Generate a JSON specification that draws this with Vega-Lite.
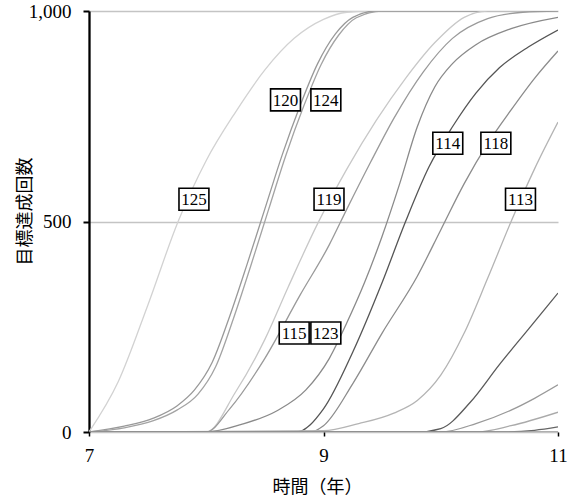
{
  "$schema": "https://vega.github.io/schema/vega-lite/v6.json",
  "width": 469,
  "height": 421,
  "autosize": {"type": "none"},
  "padding": {"left": 89, "top": 11, "right": 15, "bottom": 67},
  "background": "white",
  "config": {
    "view": {"stroke": null},
    "axis": {
      "labelFont": "Times New Roman", "labelFontSize": 19, "labelColor": "black",
      "titleFont": "Noto Sans CJK JP", "titleFontSize": 18, "titleFontWeight": "normal", "titleColor": "black",
      "tickColor": "black"
    },
    "axisX": {"domain": false, "grid": false, "tickSize": 4, "tickWidth": 1.5, "labelPadding": 10, "labelFlush": false,
      "titleX": 228, "titleY": 46, "titleBaseline": "top"},
    "axisY": {"domainColor": "black", "domainWidth": 2.3, "tickSize": 6, "tickWidth": 2,
      "grid": true, "gridColor": "#c4c4c4", "gridWidth": 1.5, "labelPadding": 12,
      "titleX": -64, "titleY": 200, "titleBaseline": "middle", "titleAngle": -90}
  },
  "datasets": {
    "curves": [
      {"s":"125","t":7,"v":0},{"s":"125","t":7.25,"v":120},{"s":"125","t":7.5,"v":300},{"s":"125","t":7.76,"v":500},{"s":"125","t":8.0,"v":645},{"s":"125","t":8.25,"v":760},{"s":"125","t":8.5,"v":860},{"s":"125","t":8.75,"v":935},{"s":"125","t":9.0,"v":980},{"s":"125","t":9.2,"v":997},{"s":"125","t":9.4,"v":1000},{"s":"125","t":11,"v":1000},
      {"s":"120","t":7,"v":0},{"s":"120","t":7.3,"v":14},{"s":"120","t":7.55,"v":33},{"s":"120","t":7.75,"v":62},{"s":"120","t":7.9,"v":100},{"s":"120","t":8.05,"v":165},{"s":"120","t":8.2,"v":275},{"s":"120","t":8.35,"v":400},{"s":"120","t":8.5,"v":530},{"s":"120","t":8.65,"v":660},{"s":"120","t":8.8,"v":775},{"s":"120","t":8.95,"v":875},{"s":"120","t":9.1,"v":945},{"s":"120","t":9.25,"v":985},{"s":"120","t":9.45,"v":1000},{"s":"120","t":11,"v":1000},
      {"s":"124","t":7,"v":0},{"s":"124","t":7.3,"v":10},{"s":"124","t":7.55,"v":27},{"s":"124","t":7.75,"v":52},{"s":"124","t":7.93,"v":90},{"s":"124","t":8.08,"v":155},{"s":"124","t":8.23,"v":268},{"s":"124","t":8.38,"v":395},{"s":"124","t":8.53,"v":527},{"s":"124","t":8.68,"v":658},{"s":"124","t":8.83,"v":773},{"s":"124","t":8.98,"v":873},{"s":"124","t":9.13,"v":943},{"s":"124","t":9.28,"v":984},{"s":"124","t":9.5,"v":1000},{"s":"124","t":11,"v":1000},
      {"s":"119","t":7,"v":0},{"s":"119","t":8.0,"v":0},{"s":"119","t":8.25,"v":95},{"s":"119","t":8.5,"v":220},{"s":"119","t":8.7,"v":345},{"s":"119","t":8.95,"v":495},{"s":"119","t":9.2,"v":625},{"s":"119","t":9.45,"v":740},{"s":"119","t":9.7,"v":840},{"s":"119","t":9.95,"v":925},{"s":"119","t":10.2,"v":985},{"s":"119","t":10.4,"v":1000},{"s":"119","t":11,"v":1000},
      {"s":"115","t":7,"v":0},{"s":"115","t":8.0,"v":0},{"s":"115","t":8.2,"v":55},{"s":"115","t":8.5,"v":175},{"s":"115","t":8.8,"v":325},{"s":"115","t":9.05,"v":445},{"s":"115","t":9.2,"v":530},{"s":"115","t":9.4,"v":640},{"s":"115","t":9.6,"v":745},{"s":"115","t":9.85,"v":855},{"s":"115","t":10.1,"v":935},{"s":"115","t":10.4,"v":982},{"s":"115","t":10.7,"v":997},{"s":"115","t":11,"v":1000},
      {"s":"123","t":7,"v":0},{"s":"123","t":8.0,"v":0},{"s":"123","t":8.3,"v":18},{"s":"123","t":8.6,"v":50},{"s":"123","t":8.85,"v":100},{"s":"123","t":9.05,"v":175},{"s":"123","t":9.2,"v":260},{"s":"123","t":9.35,"v":355},{"s":"123","t":9.5,"v":465},{"s":"123","t":9.65,"v":590},{"s":"123","t":9.8,"v":725},{"s":"123","t":9.95,"v":820},{"s":"123","t":10.1,"v":875},{"s":"123","t":10.3,"v":920},{"s":"123","t":10.6,"v":958},{"s":"123","t":11,"v":985},
      {"s":"114","t":7,"v":0},{"s":"114","t":8.77,"v":0},{"s":"114","t":9.0,"v":55},{"s":"114","t":9.25,"v":190},{"s":"114","t":9.5,"v":355},{"s":"114","t":9.7,"v":500},{"s":"114","t":9.9,"v":630},{"s":"114","t":10.1,"v":725},{"s":"114","t":10.3,"v":805},{"s":"114","t":10.5,"v":865},{"s":"114","t":10.75,"v":915},{"s":"114","t":11,"v":955},
      {"s":"118","t":7,"v":0},{"s":"118","t":8.88,"v":0},{"s":"118","t":9.0,"v":15},{"s":"118","t":9.25,"v":115},{"s":"118","t":9.5,"v":235},{"s":"118","t":9.8,"v":370},{"s":"118","t":10.0,"v":480},{"s":"118","t":10.2,"v":590},{"s":"118","t":10.4,"v":685},{"s":"118","t":10.6,"v":765},{"s":"118","t":10.8,"v":840},{"s":"118","t":11,"v":905},
      {"s":"113","t":7,"v":0},{"s":"113","t":9.0,"v":3},{"s":"113","t":9.3,"v":20},{"s":"113","t":9.6,"v":45},{"s":"113","t":9.8,"v":75},{"s":"113","t":10.0,"v":135},{"s":"113","t":10.2,"v":235},{"s":"113","t":10.4,"v":365},{"s":"113","t":10.6,"v":500},{"s":"113","t":10.8,"v":625},{"s":"113","t":11,"v":736},
      {"s":"e330","t":7,"v":0},{"s":"e330","t":9.8,"v":0},{"s":"e330","t":10.0,"v":8},{"s":"e330","t":10.25,"v":70},{"s":"e330","t":10.5,"v":160},{"s":"e330","t":10.75,"v":245},{"s":"e330","t":11,"v":330},
      {"s":"e112","t":7,"v":0},{"s":"e112","t":10.0,"v":0},{"s":"e112","t":10.3,"v":20},{"s":"e112","t":10.6,"v":52},{"s":"e112","t":10.8,"v":80},{"s":"e112","t":11,"v":112},
      {"s":"e47","t":7,"v":0},{"s":"e47","t":10.3,"v":0},{"s":"e47","t":10.6,"v":15},{"s":"e47","t":11,"v":47},
      {"s":"e12","t":7,"v":0},{"s":"e12","t":10.5,"v":0},{"s":"e12","t":10.8,"v":4},{"s":"e12","t":11,"v":12},
      {"s":"z0","t":7,"v":0},{"s":"z0","t":11,"v":0}
    ],
    "labels": [
      {"label":"125","t":7.895,"v":553},
      {"label":"120","t":8.676,"v":789},
      {"label":"124","t":9.02,"v":789},
      {"label":"119","t":9.047,"v":553},
      {"label":"114","t":10.06,"v":686},
      {"label":"118","t":10.47,"v":686},
      {"label":"113","t":10.68,"v":553},
      {"label":"115","t":8.75,"v":235},
      {"label":"123","t":9.02,"v":235}
    ]
  },
  "layer": [
    {
      "data": {"name": "curves"},
      "mark": {"type": "line", "strokeWidth": 1.3, "interpolate": "monotone", "clip": true},
      "encoding": {
        "x": {"field": "t", "type": "quantitative",
          "scale": {"domain": [7, 11], "nice": false, "zero": false},
          "axis": {"values": [7, 9, 11], "labelExpr": "format(datum.value, 'd')", "title": "時間（年）"}},
        "y": {"field": "v", "type": "quantitative",
          "scale": {"domain": [0, 1000], "nice": false},
          "axis": {"values": [0, 500, 1000], "labelExpr": "format(datum.value, ',')", "title": "目標達成回数"}},
        "color": {"field": "s", "type": "nominal", "legend": null,
          "scale": {
            "domain": ["z0","e12","e47","e112","e330","113","118","114","123","115","119","124","120","125"],
            "range": ["#9a9a9a","#666666","#aaaaaa","#999999","#5a5a5a","#b4b4b4","#8c8c8c","#555555","#8a8a8a","#9a9a9a","#c8c8c8","#a3a3a3","#999999","#d2d2d2"]}}
      }
    },
    {
      "mark": {"type": "rule", "color": "black", "strokeWidth": 1.6},
      "encoding": {"y": {"datum": 1000}}
    },
    {
      "mark": {"type": "rule", "color": "black", "strokeWidth": 4},
      "encoding": {"x": {"datum": 11}}
    },
    {
      "data": {"name": "labels"},
      "mark": {"type": "point", "shape": "M-1.36,-1H1.36V1H-1.36Z", "size": 484, "filled": true, "fill": "white", "stroke": "black", "strokeWidth": 1.6, "opacity": 1},
      "encoding": {
        "x": {"field": "t", "type": "quantitative"},
        "y": {"field": "v", "type": "quantitative"}
      }
    },
    {
      "data": {"name": "labels"},
      "mark": {"type": "text", "font": "Times New Roman", "fontSize": 17, "color": "black", "align": "center", "baseline": "middle", "dy": 1},
      "encoding": {
        "x": {"field": "t", "type": "quantitative"},
        "y": {"field": "v", "type": "quantitative"},
        "text": {"field": "label"}
      }
    }
  ]
}
